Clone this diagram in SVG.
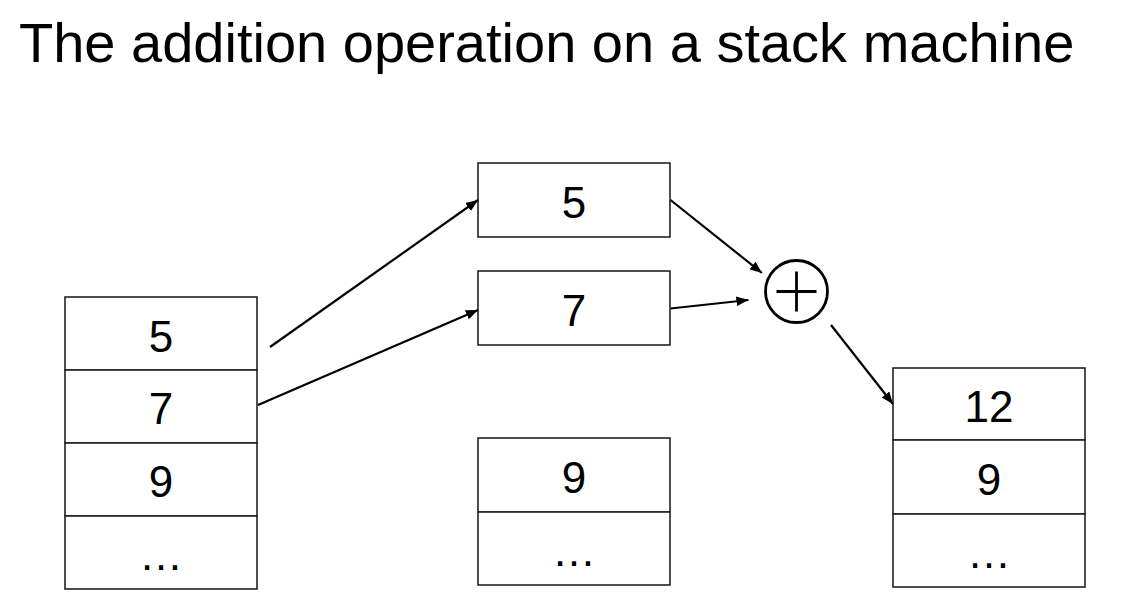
<svg xmlns="http://www.w3.org/2000/svg" width="1143" height="613" viewBox="0 0 1143 613">
<style>
.cell{fill:#fff;stroke:#222;stroke-width:1.6}
.t{font-family:"Liberation Sans",Arial,sans-serif;font-size:44px;fill:#000;text-anchor:middle}
.title{font-family:"Liberation Sans",Arial,sans-serif;font-size:56px;fill:#000}
.conn{stroke:#000;stroke-width:2.2;fill:none;marker-end:url(#ah)}
</style>
<defs>
<marker id="ah" viewBox="0 0 10 8" refX="10" refY="4" markerWidth="5.5" markerHeight="4.4" markerUnits="strokeWidth" orient="auto">
<path d="M0,0 L10,4 L0,8 z" fill="#000"/>
</marker>
</defs>
<rect width="1143" height="613" fill="#fff"/>
<text class="title" x="19" y="62">The addition operation on a stack machine</text>

<g id="left-stack">
<rect class="cell" x="65" y="297" width="192" height="73"/>
<rect class="cell" x="65" y="370" width="192" height="73"/>
<rect class="cell" x="65" y="443" width="192" height="73"/>
<rect class="cell" x="65" y="516" width="192" height="73"/>
<text class="t" x="161" y="352">5</text>
<text class="t" x="161" y="424">7</text>
<text class="t" x="161" y="497">9</text>
<text class="t" x="161" y="570">…</text>
</g>

<g id="pop-5">
<rect class="cell" x="478" y="163" width="192" height="74"/>
<text class="t" x="574" y="218">5</text>
</g>
<g id="pop-7">
<rect class="cell" x="478" y="271" width="192" height="74"/>
<text class="t" x="574" y="326">7</text>
</g>

<g id="middle-stack">
<rect class="cell" x="478" y="438" width="192" height="74"/>
<rect class="cell" x="478" y="512" width="192" height="73"/>
<text class="t" x="574" y="493">9</text>
<text class="t" x="574" y="566">…</text>
</g>

<g id="plus">
<circle cx="796.5" cy="291.5" r="31" fill="#fff" stroke="#000" stroke-width="2.8"/>
<path d="M776.5,291.5 H816.5 M796.5,271.5 V311.5" stroke="#000" stroke-width="2.8"/>
</g>

<g id="right-stack">
<rect class="cell" x="893" y="368" width="192" height="72"/>
<rect class="cell" x="893" y="440" width="192" height="74"/>
<rect class="cell" x="893" y="514" width="192" height="73"/>
<text class="t" x="989" y="422">12</text>
<text class="t" x="989" y="495">9</text>
<text class="t" x="989" y="568">…</text>
</g>

<g id="connectors">
<line class="conn" x1="270" y1="347" x2="478" y2="200"/>
<line class="conn" x1="258" y1="405" x2="478" y2="310"/>
<line class="conn" x1="670.5" y1="200" x2="762" y2="273"/>
<line class="conn" x1="670.5" y1="308.5" x2="748.5" y2="300"/>
<line class="conn" x1="831" y1="325" x2="893" y2="404"/>
</g>
</svg>
